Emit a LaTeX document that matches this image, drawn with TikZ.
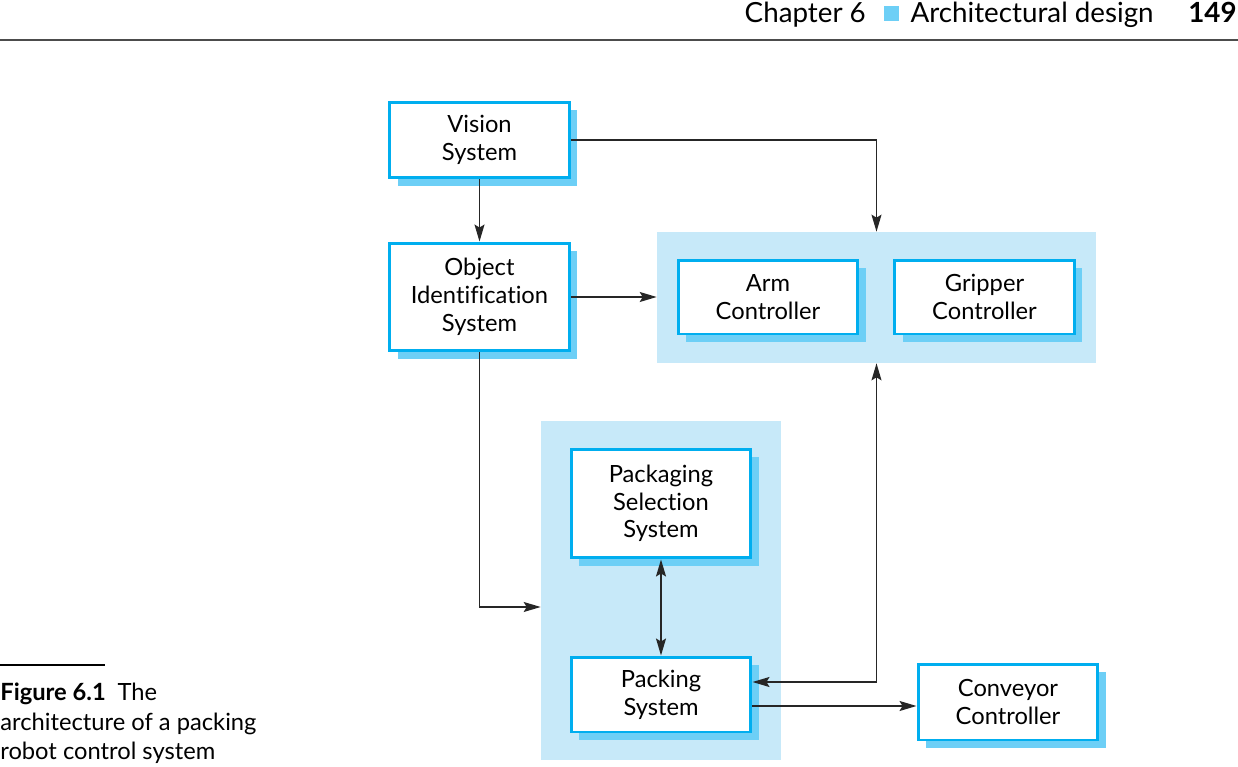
\documentclass[tikz,border=0pt]{standalone}
\usepackage{fontspec}
\setmainfont{Lato}[Ligatures={NoCommon,NoRare}]
\usetikzlibrary{arrows.meta,positioning,shadows}
\definecolor{boxblue}{HTML}{00AEEF}
\definecolor{shadeblue}{HTML}{6DCFF6}
\definecolor{groupblue}{HTML}{C7E9F9}

\begin{document}
\begin{tikzpicture}[
    x=0.02cm, y=-0.02cm,
    >={Stealth[length=3.4mm,width=2mm,inset=0.6mm]},
    module/.style={draw=boxblue, line width=1.7pt, fill=white, minimum width=3.6cm,
                   align=center, font=\fontsize{13.5}{15.8}\selectfont,
                   drop shadow={shadow xshift=0.16cm, shadow yshift=-0.16cm,
                                fill=shadeblue, opacity=1}},
    group/.style={fill=groupblue, inner sep=0pt},
    head/.style={anchor=base east, inner sep=0pt, font=\fontsize{15.8}{19}\selectfont},
    arr/.style={->, line width=0.85pt, draw=black!85},
  ]
  \useasboundingbox (0,0) rectangle (1238,767);

  % page header
  \node[head, font=\fontsize{15.8}{19}\selectfont\bfseries] (page) at (1237,23) {149};
  \node[head] (chaptitle) at ([xshift=-6.8mm]page.base west) {Architectural design};
  \node[fill=shadeblue, minimum size=0.3cm, inner sep=0pt] (chapmark) at (891,14) {};
  \node[head] (chapnum) at ([xshift=-3.4mm]chapmark.west |- page.base) {Chapter 6};
  \draw[line width=1.1pt, black!70] (0,40) -- (1238,40);

  % grouped subsystems
  \node[group, minimum width=8.78cm, minimum height=2.62cm] (armgrp) at (876.5,297.5) {};
  \node[group, minimum width=4.8cm, minimum height=6.78cm] (packgrp) at (661,590.5) {};

  \node[module, minimum height=1.52cm] (vision) at (479.5,140) {Vision\\System};
  \node[module, minimum height=2.16cm] (objid) at (479.5,297) {Object\\Identification\\System};
  \node[module, minimum height=1.48cm] (arm) at (768,297) {Arm\\Controller};
  \node[module, minimum height=1.48cm] (gripper) at (984.5,297) {Gripper\\Controller};
  \node[module, minimum height=2.18cm] (packsel) at (661,503.5) {Packaging\\Selection\\System};
  \node[module, minimum height=1.5cm] (packing) at (661,694.5) {Packing\\System};
  \node[module, minimum height=1.52cm] (conveyor) at (1008,702) {Conveyor\\Controller};

  \draw[arr] (vision) -- (objid);
  \draw[arr] (vision.east) -| (armgrp.north);
  \draw[arr] (objid.east) -- (objid.east -| armgrp.west);
  \draw[arr] (objid.south) |- ([yshift=-0.33cm]packgrp.west);
  \draw[arr, <->] (packsel) -- (packing);
  \draw[arr, <->] (armgrp.south) |- ([yshift=0.25cm]packing.east);
  \draw[arr] ([yshift=-0.23cm]packing.east) -- ([yshift=-0.23cm]packing.east -| conveyor.west);

  % caption
  \draw[line width=0.6pt] (0,665) -- (105,665);
  \node[anchor=north west, inner sep=0pt, align=left, font=\fontsize{13.5}{16.6}\selectfont]
    (caption) at (0,683) {\textbf{Figure 6.1}\enspace The\\architecture of a packing\\robot control system};
\end{tikzpicture}
\end{document}
